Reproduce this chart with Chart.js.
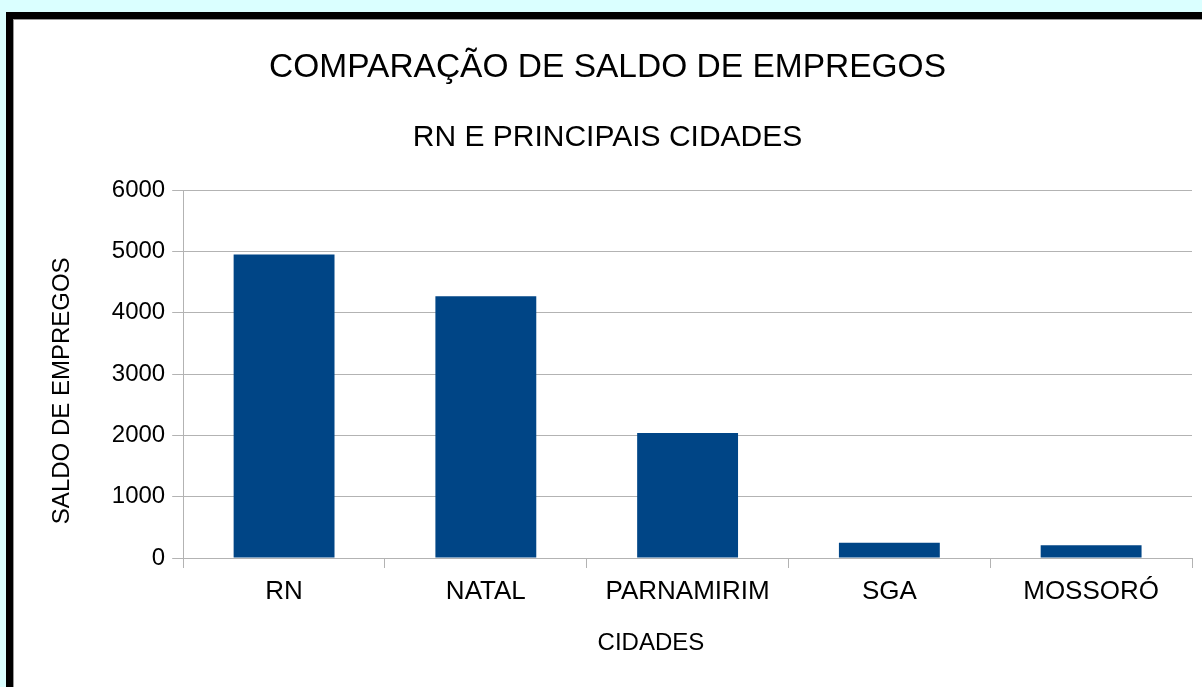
<!DOCTYPE html>
<html lang="pt">
<head>
  <meta charset="UTF-8" />
  <title>Comparação de saldo de empregos</title>
  <script src="https://cdn.jsdelivr.net/npm/chart.js"></script>
  <style>
    * {
      margin: 0;
      padding: 0;
      box-sizing: border-box;
    }

    body {
      width: 1202px;
      height: 687px;
      overflow: hidden;
      background: #daffff;
      position: relative;
    }

    .frame {
      position: absolute;
      left: 6px;
      top: 12px;
      right: 0;
      bottom: 0;
      border-top: 7px solid #000;
      border-left: 7px solid #000;
    }

    .sheet {
      position: absolute;
      left: 0;
      top: 0;
      right: 0;
      bottom: 0;
      background: #fff;
      border-top: 1px solid #999;
      border-left: 1px solid #999;
    }

    #chart {
      position: absolute;
      left: 0;
      top: 0;
    }
  </style>
</head>
<body>
  <div class="frame">
    <div class="sheet">
      <canvas id="chart" width="1188" height="667"></canvas>
    </div>
  </div>

  <script>
    const cidades = ['RN', 'NATAL', 'PARNAMIRIM', 'SGA', 'MOSSORÓ'];
    const saldo = [4950, 4270, 2040, 250, 210];
    const yMin = 0;
    const yMax = 6000;
    const yStep = 1000;

    const font = '"Liberation Sans", Arial, sans-serif';
    const grey = '#b3b3b3';

    // axis titles sit off-centre in the original, trailing spaces nudge them
    const xTitle = 'CIDADES' + ' '.repeat(11);
    const yTitle = 'SALDO DE EMPREGOS' + ' '.repeat(5);

    new Chart(document.getElementById('chart'), {
      type: 'bar',
      data: {
        labels: cidades,
        datasets: [{
          label: 'Saldo de empregos',
          data: saldo,
          backgroundColor: '#004586',
          borderWidth: 0,
          barPercentage: 0.5,
          categoryPercentage: 1
        }]
      },
      options: {
        responsive: false,
        animation: false,
        layout: { padding: { left: 9, right: 10, top: 0, bottom: 0 } },
        plugins: {
          legend: { display: false },
          tooltip: { enabled: false },
          title: {
            display: true,
            text: 'COMPARAÇÃO DE SALDO DE EMPREGOS',
            color: '#000',
            font: { family: font, size: 33.5, weight: 'normal' },
            padding: { top: 28, bottom: 32 }
          },
          subtitle: {
            display: true,
            text: 'RN E PRINCIPAIS CIDADES',
            color: '#000',
            font: { family: font, size: 30, weight: 'normal' },
            padding: { top: 0, bottom: 34 }
          }
        },
        scales: {
          x: {
            offset: true,
            grid: {
              offset: true,
              drawOnChartArea: true,
              color: ctx => ctx.index === cidades.length ? grey : 'rgba(0,0,0,0)',
              lineWidth: ctx => ctx.index === cidades.length ? 2 : 1,
              tickColor: grey,
              tickLength: 10
            },
            border: { display: false },
            ticks: {
              color: '#000',
              padding: 8,
              font: { family: font, size: 26 }
            },
            title: {
              display: true,
              text: xTitle,
              color: '#000',
              font: { family: font, size: 24 },
              padding: { top: 14, bottom: 29 }
            }
          },
          y: {
            min: yMin,
            max: yMax,
            grid: {
              color: grey,
              tickColor: grey,
              tickLength: 11
            },
            border: { display: true, color: grey },
            ticks: {
              stepSize: yStep,
              color: '#000',
              padding: 7,
              font: { family: font, size: 24 },
              callback: v => String(v)
            },
            title: {
              display: true,
              text: yTitle,
              color: '#000',
              font: { family: font, size: 24 },
              padding: { top: 25, bottom: 28 }
            }
          }
        }
      }
    });
  </script>
</body>
</html>
